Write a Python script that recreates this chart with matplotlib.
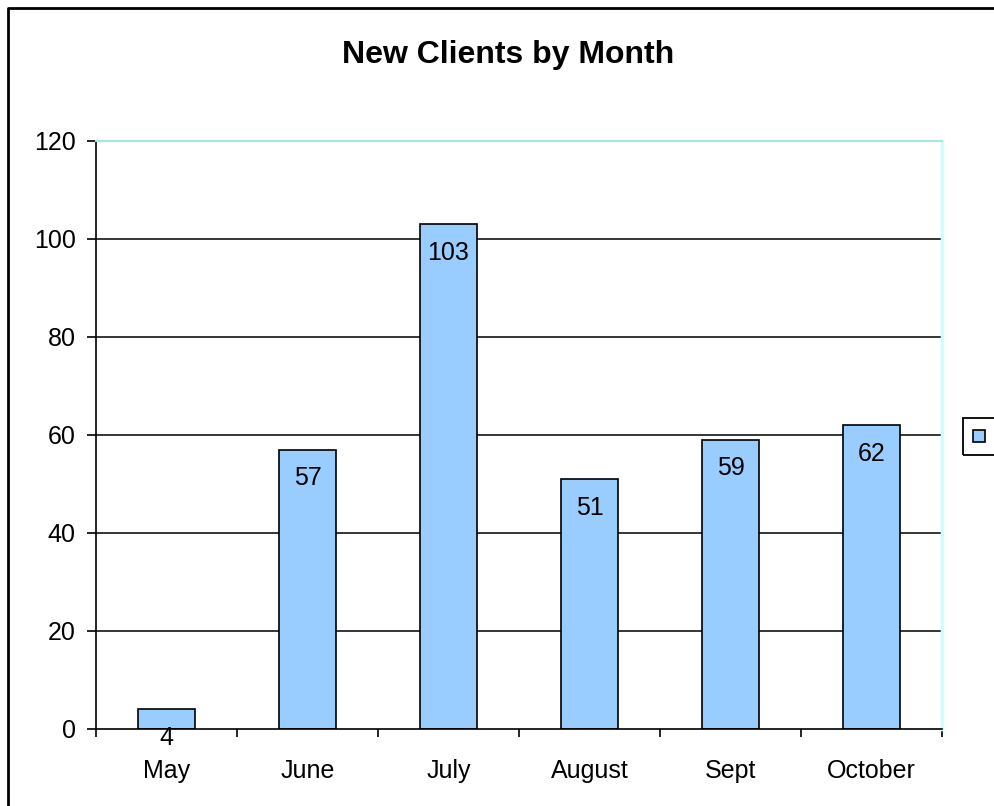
""" New clients by month, bar chart """
import numpy as np
import matplotlib.pyplot as plt
from matplotlib.patches import Rectangle

months = ['May', 'June', 'July', 'August', 'Sept', 'October']
clients = [4, 57, 103, 51, 59, 62]
yticks = [0, 20, 40, 60, 80, 100, 120]

W, H = 995, 806
plt.rcParams['font.family'] = ['Liberation Sans', 'DejaVu Sans']

fig = plt.figure(figsize=(W/100, H/100), dpi=100)
# plot area in pixels: left 96, right 942, top 141, bottom 729
ax = fig.add_axes([96/W, 1 - 729/H, (942-96)/W, (729-141)/H])

x = np.arange(len(months))
ax.bar(x, clients, width=0.41, color='#99ccff', edgecolor='black',
       linewidth=1.2, zorder=3)
for xi, v in zip(x, clients):
    ax.annotate(str(v), (xi, v), xytext=(0, -20.5), textcoords='offset points',
                ha='center', va='center', fontsize=18, zorder=4)

ax.set_xlim(-0.5, len(months) - 0.5)
ax.set_ylim(0, 120)
ax.set_yticks(yticks)
ax.set_yticklabels([str(t) for t in yticks], fontsize=18)
for t in yticks[1:-1]:
    ax.axhline(t, color='black', linewidth=1.1, zorder=1)

# categories labelled at centres, tick marks at boundaries
ax.set_xticks(x)
ax.set_xticklabels(months, fontsize=18)
ax.tick_params(axis='x', length=0, pad=21.5)
ax.set_xticks(np.arange(len(months) + 1) - 0.5, minor=True)
ax.tick_params(axis='x', which='minor', length=6, width=1.2, direction='out')
ax.tick_params(axis='y', length=6.5, width=1.2, direction='out', pad=8)

ax.spines['left'].set_linewidth(1.2)
ax.spines['bottom'].set_linewidth(1.2)
ax.spines['bottom'].set_zorder(5)
ax.spines['top'].set_color('#a8e4e4')
ax.spines['right'].set_color('#ccffff')
ax.spines['top'].set_linewidth(1.5)
ax.spines['right'].set_linewidth(2.5)

fig.text(508/W, 1 - 55/H, 'New Clients by Month', ha='center', va='center',
         fontsize=23, fontweight='bold')

# legend box, cut off at the right edge
fig.patches.append(Rectangle((963/W, 1 - 455/H), 40/W, 37/H, fill=False,
                             edgecolor='black', linewidth=1.3,
                             transform=fig.transFigure))
fig.patches.append(Rectangle((973/W, 1 - 442/H), 12/W, 12/H,
                             facecolor='#99ccff', edgecolor='black',
                             linewidth=1.2, transform=fig.transFigure))
# outer frame (top and left only visible)
fig.add_artist(plt.Line2D([8/W, 8/W, 1], [0, 1 - 8/H, 1 - 8/H],
                          color='black', linewidth=2,
                          transform=fig.transFigure))

fig.savefig('out.png', dpi=100)
